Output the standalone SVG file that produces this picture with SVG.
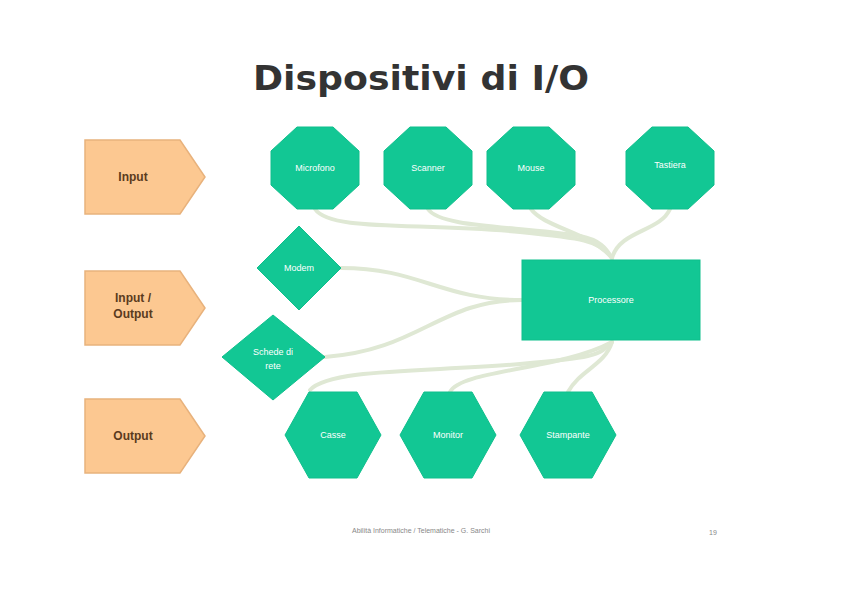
<svg xmlns="http://www.w3.org/2000/svg" xmlns:xlink="http://www.w3.org/1999/xlink" width="842" height="595" viewBox="0 0 842 595">
<style>
.dev{fill:#12c794;stroke:#0fbf8c;stroke-width:1}
.tag{fill:#fcc891;stroke:#e8b27c;stroke-width:1.5}
.lbl{font-family:"Liberation Sans",Arial,sans-serif;font-size:9px;fill:#ffffff;text-anchor:middle}
.tl{font-family:"Liberation Sans",Arial,sans-serif;font-size:12px;font-weight:bold;fill:#5a3b1e;text-anchor:middle}
.con{fill:none;stroke:#dfe8d4;stroke-width:4;stroke-linecap:round}
</style>
<defs>
<polygon id="oct" points="-18,-41 18,-41 44,-17 44,17 18,41 -18,41 -44,17 -44,-17"/>
<polygon id="hex" points="-48,0 -24,-43 24,-43 48,0 24,43 -24,43"/>
<polygon id="tagshape" points="0,0 95,0 120,37 95,74 0,74"/>
</defs>
<rect width="842" height="595" fill="#ffffff"/>
<text x="421" y="90" font-family="DejaVu Sans,Verdana,sans-serif" font-size="34" font-weight="bold" fill="#333333" text-anchor="middle" textLength="336" lengthAdjust="spacingAndGlyphs">Dispositivi di I/O</text>
<g id="connectors">
<path class="con" d="M315,209 C330,232 420,222 520,232 C580,238 600,240 612,258"/>
<path class="con" d="M428,209 C440,228 520,226 580,236 C600,240 606,248 612,258"/>
<path class="con" d="M531,209 C545,228 590,232 612,258"/>
<path class="con" d="M670,209 C660,232 620,230 612,258"/>
<path class="con" d="M341,268 C420,268 440,300 522,300"/>
<path class="con" d="M325,357 C420,350 440,300 522,300"/>
<path class="con" d="M310,390 C330,368 430,372 520,364 C590,358 600,356 612,342"/>
<path class="con" d="M450,392 C460,370 560,370 612,342"/>
<path class="con" d="M568,392 C580,370 605,365 612,342"/>
</g>
<g id="input"><use xlink:href="#tagshape" x="85" y="140" class="tag"/><text class="tl" x="133" y="181">Input</text></g>
<g id="inputoutput"><use xlink:href="#tagshape" x="85" y="271" class="tag"/><text class="tl" x="133" y="302">Input /</text><text class="tl" x="133" y="318">Output</text></g>
<g id="output"><use xlink:href="#tagshape" x="85" y="399" class="tag"/><text class="tl" x="133" y="440">Output</text></g>
<g id="microfono"><use xlink:href="#oct" x="315" y="168" class="dev"/><text class="lbl" x="315" y="171">Microfono</text></g>
<g id="scanner"><use xlink:href="#oct" x="428" y="168" class="dev"/><text class="lbl" x="428" y="171">Scanner</text></g>
<g id="mouse"><use xlink:href="#oct" x="531" y="168" class="dev"/><text class="lbl" x="531" y="171">Mouse</text></g>
<g id="tastiera"><use xlink:href="#oct" x="670" y="168" class="dev"/><text class="lbl" x="670" y="168">Tastiera</text></g>
<g id="modem"><polygon class="dev" points="299,226 341,268 299,310 257,268"/><text class="lbl" x="299" y="271">Modem</text></g>
<g id="schede"><polygon class="dev" points="273,315 325,357 273,400 222,357"/><text class="lbl" x="273" y="355">Schede di</text><text class="lbl" x="273" y="369">rete</text></g>
<g id="processore"><rect class="dev" x="522" y="260" width="178" height="80"/><text class="lbl" x="611" y="303">Processore</text></g>
<g id="casse"><use xlink:href="#hex" x="333" y="435" class="dev"/><text class="lbl" x="333" y="438">Casse</text></g>
<g id="monitor"><use xlink:href="#hex" x="448" y="435" class="dev"/><text class="lbl" x="448" y="438">Monitor</text></g>
<g id="stampante"><use xlink:href="#hex" x="568" y="435" class="dev"/><text class="lbl" x="568" y="438">Stampante</text></g>
<text x="421" y="533" font-family="Liberation Sans,Arial,sans-serif" font-size="7" fill="#888888" text-anchor="middle">Abilità Informatiche / Telematiche - G. Sarchi</text>
<text x="713" y="535" font-family="Liberation Sans,Arial,sans-serif" font-size="7" fill="#888888" text-anchor="middle">19</text>
</svg>
